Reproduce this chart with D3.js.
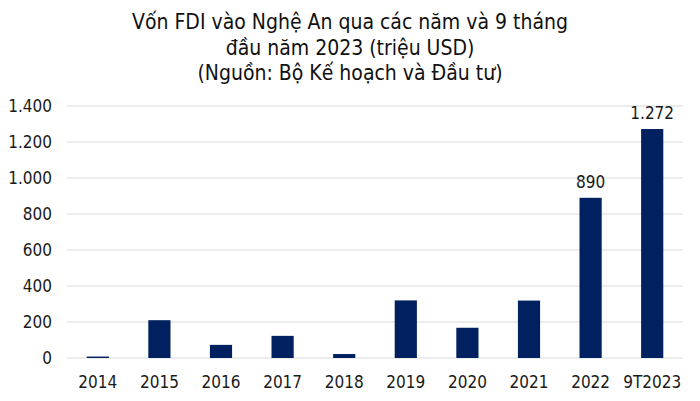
<!DOCTYPE html>
<html><head><meta charset="utf-8">
<script src="https://cdn.jsdelivr.net/npm/d3@7"></script>
<style>body{margin:0;background:#fff}svg{display:block}text{font-family:"DejaVu Sans Condensed","DejaVu Sans",sans-serif}</style>
</head><body><svg id="c" width="700" height="401"></svg>
<script>
const categories = ["2014","2015","2016","2017","2018","2019","2020","2021","2022","9T2023"];
const values = [8,210,73,123,22,320,168,319,890,1272];
const labeledCategories = ["2022","9T2023"];
const yTicks = [0,200,400,600,800,1000,1200,1400];
const titleLines = ["Vốn FDI vào Nghệ An qua các năm và 9 tháng","đầu năm 2023 (triệu USD)","(Nguồn: Bộ Kế hoạch và Đầu tư)"];

const FONT = "'DejaVu Sans Condensed','DejaVu Sans',sans-serif";
const svg = d3.select("#c");
const loc = d3.formatLocale({decimal:",",thousands:".",grouping:[3],currency:["",""]});
const fmt = loc.format(",d");
const m = {l:67,r:17};
const W = 700;
const x = d3.scaleBand().domain(categories).range([m.l, W-m.r]).paddingInner(0.64).paddingOuter(0.32);
const y = d3.scaleLinear().domain([0,1400]).range([358,106]);

svg.append("g").selectAll("line").data(yTicks).join("line")
  .attr("x1",m.l).attr("x2",W-m.r).attr("y1",d=>y(d)).attr("y2",d=>y(d))
  .attr("stroke","#d9d9d9").attr("stroke-width",1);

const yAxis = svg.append("g").attr("transform",`translate(${m.l},0)`)
  .call(d3.axisLeft(y).tickValues(yTicks).tickFormat(fmt).tickSize(0).tickPadding(15));
yAxis.select(".domain").remove();
yAxis.selectAll("text").attr("font-size",17).attr("fill","#1a1a1a").style("font-family",FONT);

const xAxis = svg.append("g").attr("transform",`translate(0,${y(0)})`)
  .call(d3.axisBottom(x).tickSize(0).tickPadding(18));
xAxis.select(".domain").remove();
xAxis.selectAll("text").attr("font-size",17).attr("fill","#1a1a1a").style("font-family",FONT);

svg.append("g").selectAll("rect").data(categories).join("rect")
  .attr("x",d=>x(d)).attr("width",x.bandwidth())
  .attr("y",(d,i)=>y(values[i])).attr("height",(d,i)=>y(0)-y(values[i]))
  .attr("fill","#002060");

svg.append("g").selectAll("text").data(categories.filter(c=>labeledCategories.includes(c))).join("text")
  .attr("x",d=>x(d)+x.bandwidth()/2).attr("y",d=>y(values[categories.indexOf(d)])-10)
  .attr("text-anchor","middle").attr("font-size",17).attr("fill","#1a1a1a")
  .text(d=>fmt(values[categories.indexOf(d)]));

svg.append("g").selectAll("text").data(titleLines).join("text")
  .attr("x",350).attr("y",(d,i)=>29+i*25.5).attr("text-anchor","middle")
  .attr("font-size",21).attr("fill","#111").text(d=>d);
</script></body></html>
